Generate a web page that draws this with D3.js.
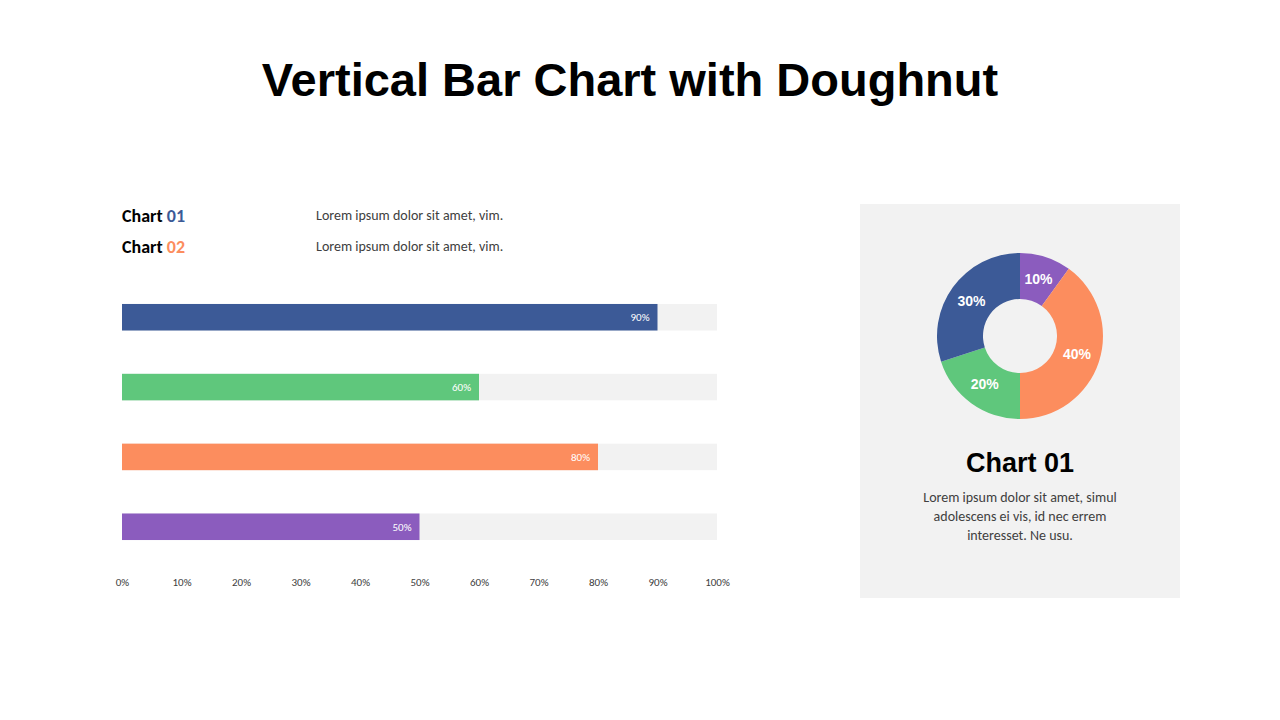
<!DOCTYPE html>
<html><head><meta charset="utf-8">
<script src="https://cdn.jsdelivr.net/npm/d3@7"></script>
<style>body{margin:0;background:#fff}svg{display:block}</style></head>
<body><svg id="c" width="1280" height="720"></svg>
<script>
const barCategories = ["A","B","C","D"];
const barValues = [90, 60, 80, 50];
const barColors = ["#3C5A97","#5FC77C","#FC8D5E","#8B5CBE"];
const tickValues = [0,10,20,30,40,50,60,70,80,90,100];
const donutLabels = ["P","O","G","B"];
const donutValues = [10, 40, 20, 30];
const donutColors = ["#8B5CBE","#FC8D5E","#5FC77C","#3C5A97"];

const svg = d3.select("#c");
const sans = "Calibri, Carlito, 'Open Sans', sans-serif";
svg.append("text").attr("x",630).attr("y",96).attr("text-anchor","middle")
  .attr("font-family","Liberation Sans, Arial, sans-serif").attr("font-weight","bold").attr("font-size",47).text("Vertical Bar Chart with Doughnut");

// legend
[["01","#3C5A97",222],["02","#FC8D5E",253]].forEach(([n,c,y])=>{
  const t = svg.append("text").attr("x",122).attr("y",y).attr("font-family",sans).attr("font-size",18).attr("font-weight","bold");
  t.append("tspan").attr("fill","#000").text("Chart ");
  t.append("tspan").attr("fill",c).text(n);
  svg.append("text").attr("x",316).attr("y",y-2).attr("font-family",sans).attr("font-size",14).attr("fill","#404040").text("Lorem ipsum dolor sit amet, vim.");
});

const x = d3.scaleLinear().domain([0,100]).range([122,717]);
const y = d3.scaleBand().domain(barCategories).range([290,554]).paddingInner(0.62).paddingOuter(0.2);
svg.selectAll(".bg").data(barCategories).join("rect").attr("x",x(0)).attr("width",x(100)-x(0))
  .attr("y",d=>y(d)).attr("height",y.bandwidth()).attr("fill","#F2F2F2");
svg.selectAll(".bar").data(barCategories).join("rect").attr("x",x(0)).attr("width",(d,i)=>x(barValues[i])-x(0))
  .attr("y",d=>y(d)).attr("height",y.bandwidth()).attr("fill",(d,i)=>barColors[i]);
svg.selectAll(".bl").data(barCategories).join("text").attr("x",(d,i)=>x(barValues[i])-8).attr("y",d=>y(d)+y.bandwidth()/2+4)
  .attr("text-anchor","end").attr("font-family",sans).attr("font-size",11).attr("fill","#fff").text((d,i)=>barValues[i]+"%");

const ax = svg.append("g").attr("transform","translate(0,575)")
  .call(d3.axisBottom(x).tickValues(tickValues).tickFormat(d=>d+"%").tickSize(0));
ax.select(".domain").remove();
ax.selectAll("text").attr("font-family",sans).attr("font-size",11).attr("fill","#404040");

// donut panel
svg.append("rect").attr("x",860).attr("y",204).attr("width",320).attr("height",394).attr("fill","#F2F2F2");
const pie = d3.pie().sort(null)(donutValues);
const arc = d3.arc().innerRadius(37).outerRadius(83);
const la = d3.arc().innerRadius(60).outerRadius(60);
const g = svg.append("g").attr("transform","translate(1020,336)");
g.selectAll("path").data(pie).join("path").attr("d",arc).attr("fill",(d,i)=>donutColors[i]);
g.selectAll("text").data(pie).join("text").attr("transform",d=>`translate(${la.centroid(d)})`).attr("dy","0.35em")
  .attr("text-anchor","middle").attr("font-family","Liberation Sans, Arial, sans-serif").attr("font-weight","bold").attr("font-size",14).attr("fill","#fff")
  .text(d=>d.data+"%");
svg.append("text").attr("x",1020).attr("y",472).attr("text-anchor","middle").attr("font-family","Liberation Sans, Arial, sans-serif")
  .attr("font-weight","bold").attr("font-size",27).text("Chart 01");
["Lorem ipsum dolor sit amet, simul","adolescens ei vis, id nec errem","interesset. Ne usu."].forEach((s,i)=>
  svg.append("text").attr("x",1020).attr("y",502+i*19).attr("text-anchor","middle").attr("font-family",sans).attr("font-size",14).attr("fill","#404040").text(s));
</script></body></html>
